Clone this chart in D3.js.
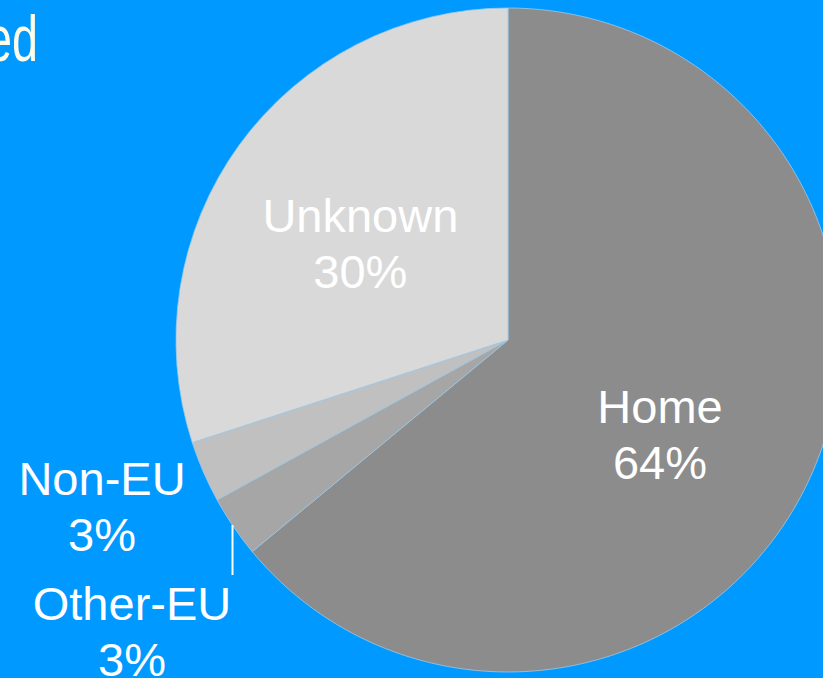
<!DOCTYPE html>
<html>
<head>
<meta charset="utf-8">
<script src="https://cdn.jsdelivr.net/npm/d3@7"></script>
<style>
  html, body { margin: 0; padding: 0; background: #0099ff; overflow: hidden; }
  svg { display: block; }
  text { font-family: "Liberation Sans", Arial, sans-serif; }
</style>
</head>
<body>
<svg id="chart" width="823" height="678"></svg>
<script>
// Share of records by origin
const categories = ["Home", "Other-EU", "Non-EU", "Unknown"];
const shares = [64, 3, 3, 30];
const sliceColors = ["#8c8c8c", "#a6a6a6", "#c0c0c0", "#d9d9d9"];
const titleText = "ed";

const W = 823, H = 678;
const cx = 508, cy = 340, R = 332;

const svg = d3.select("#chart");
svg.append("rect").attr("width", W).attr("height", H).attr("fill", "#0099ff");

// Title (runs off the left edge)
svg.append("text")
  .attr("transform", "translate(38,61) scale(0.72,1)")
  .attr("text-anchor", "end")
  .attr("font-size", 65)
  .attr("fill", "#fffde8")
  .text(titleText);

const data = categories.map((c, i) => ({ name: c, value: shares[i], color: sliceColors[i] }));

const pie = d3.pie().sort(null).value(d => d.value);
const arc = d3.arc().innerRadius(0).outerRadius(R);
const arcs = pie(data);

const g = svg.append("g").attr("transform", `translate(${cx},${cy})`);

g.selectAll("path.slice")
  .data(arcs)
  .join("path")
  .attr("class", "slice")
  .attr("d", arc)
  .attr("fill", d => d.data.color)
  .attr("stroke", "#9fc9e6")
  .attr("stroke-width", 0.8);

// Label placement: radius along the slice midline plus a nudge
const labelLayout = {
  "Home":     { r: 168, dx: 0, dy: 23 },
  "Unknown":  { r: 180, dx: -2, dy: 10 }
};
// Outside labels sit in the margin to the left of the pie
const labelPos = {
  "Non-EU":   [102, 507],
  "Other-EU": [132, 632]
};

const fontSize = 47, lineH = 56;

arcs.forEach(a => {
  const name = a.data.name;
  let x, y;
  if (labelPos[name]) {
    [x, y] = labelPos[name];
  } else {
    const L = labelLayout[name];
    const mid = (a.startAngle + a.endAngle) / 2;
    x = cx + L.r * Math.sin(mid) + L.dx;
    y = cy - L.r * Math.cos(mid) + L.dy;
  }
  const t = svg.append("text")
    .attr("text-anchor", "middle")
    .attr("font-size", fontSize)
    .attr("fill", "#ffffff");
  t.append("tspan").attr("x", x).attr("y", y - lineH / 2 + 16).text(name);
  t.append("tspan").attr("x", x).attr("y", y + lineH / 2 + 16).text(d3.format(".0f")(a.data.value) + "%");
});

// Leader line for the Other-EU label
svg.append("line")
  .attr("x1", 232.5).attr("x2", 232.5)
  .attr("y1", 525).attr("y2", 575)
  .attr("stroke", "#ffffff")
  .attr("stroke-width", 2);
</script>
</body>
</html>
